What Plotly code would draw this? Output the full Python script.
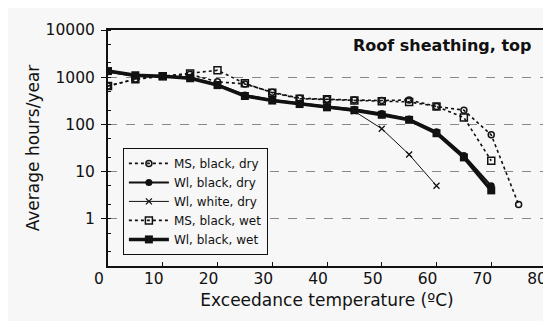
import plotly.graph_objects as go

temps_ms_dry = [0, 5, 10, 15, 20, 25, 30, 35, 40, 45, 50, 55, 60, 65, 70, 75]
ms_black_dry = [650, 920, 1050, 1150, 800, 720, 480, 360, 340, 330, 320, 330, 240, 200, 60, 2]

temps_ms_wet = [0, 5, 10, 15, 20, 25, 30, 35, 40, 45, 50, 55, 60, 65, 70]
ms_black_wet = [650, 900, 1050, 1200, 1400, 740, 470, 350, 340, 320, 310, 300, 240, 140, 17]

temps_wl_black = [0, 5, 10, 15, 20, 25, 30, 35, 40, 45, 50, 55, 60, 65, 70]
wl_black_dry = [1300, 1050, 1050, 1000, 700, 420, 330, 280, 240, 210, 170, 130, 70, 22, 5]
wl_black_wet = [1350, 1100, 1050, 950, 680, 400, 320, 270, 230, 200, 160, 125, 65, 20, 4]

temps_wl_white = [0, 5, 10, 15, 20, 25, 30, 35, 40, 45, 50, 55, 60]
wl_white_dry = [1300, 1050, 1050, 950, 680, 410, 320, 270, 230, 190, 81, 23, 5]

x_ticks = [0, 10, 20, 30, 40, 50, 60, 70, 80]
y_ticks = [1, 10, 100, 1000, 10000]
y_tick_labels = ["1", "10", "100", "1000", "10000"]

BG = "#f7f7f7"
INK = "#111111"
FONT = "DejaVu Sans, Arial, sans-serif"

fig = go.Figure()

fig.add_trace(go.Scatter(
    x=temps_ms_dry, y=ms_black_dry, name="MS, black, dry", mode="lines+markers",
    line=dict(color=INK, width=1.6, dash="3px,3px"),
    marker=dict(symbol="circle-open", size=6, color=INK, line=dict(width=1.5))))
fig.add_trace(go.Scatter(
    x=temps_wl_black, y=wl_black_dry, name="Wl, black, dry", mode="lines+markers",
    line=dict(color=INK, width=2),
    marker=dict(symbol="circle", size=7, color=INK)))
fig.add_trace(go.Scatter(
    x=temps_wl_white, y=wl_white_dry, name="Wl, white, dry", mode="lines+markers",
    line=dict(color=INK, width=1),
    marker=dict(symbol="x-thin-open", size=6, color=INK, line=dict(width=1.3))))
fig.add_trace(go.Scatter(
    x=temps_ms_wet, y=ms_black_wet, name="MS, black, wet", mode="lines+markers",
    line=dict(color=INK, width=1.6, dash="3px,3px"),
    marker=dict(symbol="square-open", size=7, color=INK, line=dict(width=1.5))))
fig.add_trace(go.Scatter(
    x=temps_wl_black, y=wl_black_wet, name="Wl, black, wet", mode="lines+markers",
    line=dict(color=INK, width=3.5),
    marker=dict(symbol="square", size=8, color=INK)))

fig.add_annotation(
    text="<b>Roof sheathing, top</b>", xref="paper", yref="paper",
    x=0.973, y=0.985, xanchor="right", yanchor="top", showarrow=False,
    font=dict(family=FONT, size=16, color=INK))

fig.update_layout(
    width=551, height=321,
    margin=dict(l=100, r=11, t=22, b=63),
    paper_bgcolor=BG, plot_bgcolor=BG,
    font=dict(family=FONT, size=15.5, color=INK),
    showlegend=True,
    legend=dict(
        x=0.034, y=0.047, xanchor="left", yanchor="bottom",
        bgcolor=BG, bordercolor=INK, borderwidth=1,
        font=dict(family=FONT, size=12, color=INK),
        tracegroupgap=0, itemwidth=40,
    ),
    xaxis=dict(
        range=[0, 80], tickvals=x_ticks, ticktext=[str(v) for v in x_ticks],
        ticks="inside", ticklen=4, tickcolor=INK,
        ticklabelshift=-9, ticklabelstandoff=-3,
        showline=True, linecolor=INK, linewidth=2, mirror=True,
        showgrid=False, zeroline=False,
        title=dict(text="Exceedance temperature (ºC)", font=dict(size=17), standoff=8),
    ),
    yaxis=dict(
        type="log", range=[-1, 4], tickvals=y_ticks, ticktext=y_tick_labels,
        ticks="outside", ticklen=5, tickcolor=INK, ticklabelstandoff=3,
        showline=True, linecolor=INK, linewidth=2, mirror=True,
        showgrid=True, gridcolor="#888888", griddash="dash", gridwidth=1,
        minor=dict(ticks="inside", ticklen=3, tickcolor=INK, showgrid=False),
        zeroline=False,
        title=dict(text="Average hours/year", font=dict(size=17), standoff=2),
    ),
)

fig.write_html("out.html")
